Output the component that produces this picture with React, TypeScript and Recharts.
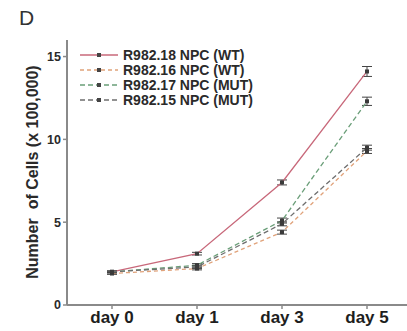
import { LineChart, Line, XAxis, YAxis, ErrorBar } from 'recharts'

const days = ['day 0', 'day 1', 'day 3', 'day 5']
const wt18 = [2.0, 3.1, 7.4, 14.1]
const wt18Err = [0.05, 0.08, 0.15, 0.3]
const wt16 = [1.9, 2.2, 4.4, 9.3]
const wt16Err = [0.05, 0.08, 0.12, 0.15]
const mut17 = [2.0, 2.4, 5.1, 12.3]
const mut17Err = [0.05, 0.1, 0.15, 0.25]
const mut15 = [2.0, 2.3, 4.9, 9.5]
const mut15Err = [0.05, 0.1, 0.12, 0.15]
const yTicks = [0, 5, 10, 15]

const data = days.map((d, i) => ({
  day: d,
  wt18: wt18[i], wt18Err: wt18Err[i],
  wt16: wt16[i], wt16Err: wt16Err[i],
  mut17: mut17[i], mut17Err: mut17Err[i],
  mut15: mut15[i], mut15Err: mut15Err[i],
}))

const SERIES = [
  { key: 'wt18', name: 'R982.18 NPC (WT)', color: '#c8687a', dash: undefined },
  { key: 'wt16', name: 'R982.16 NPC (WT)', color: '#e0a27a', dash: '4 3' },
  { key: 'mut17', name: 'R982.17 NPC (MUT)', color: '#6a9e78', dash: '5 3' },
  { key: 'mut15', name: 'R982.15 NPC (MUT)', color: '#6e6e6e', dash: '5 3' },
]

const FONT = '"Liberation Sans", Arial, sans-serif'

function SquareDot(props: any) {
  const { cx, cy } = props
  if (cx == null || cy == null) return null
  return <rect x={cx - 2} y={cy - 2} width={4} height={4} fill="#3a3a3a" />
}

function LegendBox() {
  return (
    <div style={{ position: 'absolute', left: 80, top: 47, fontFamily: FONT }}>
      {SERIES.map(s => (
        <div key={s.key} style={{ display: 'flex', alignItems: 'center', height: 15 }}>
          <svg width={40} height={8}>
            <line x1={0} y1={4} x2={38} y2={4} stroke={s.color} strokeWidth={1.3} strokeDasharray={s.dash} />
            <rect x={17} y={2} width={4} height={4} fill="#444" />
          </svg>
          <span style={{ fontSize: 14, fontWeight: 'bold', color: '#2a2a2a', marginLeft: 3, whiteSpace: 'nowrap' }}>{s.name}</span>
        </div>
      ))}
    </div>
  )
}

export default function App() {
  return (
    <div style={{ position: 'absolute', left: 0, top: 0, width: 407, height: 331, background: '#fff' }}>
      <LineChart width={407} height={331} data={data} margin={{ top: 40, right: 0, bottom: 0, left: 0 }}>
        <XAxis
          dataKey="day"
          height={26}
          padding={{ left: 45, right: 40 }}
          axisLine={{ stroke: '#8a8a8a', strokeWidth: 2 }}
          tickLine={{ stroke: '#8a8a8a', strokeWidth: 1.5 }}
          tickSize={4}
          tick={{ fill: '#1e1e1e', fontSize: 17, fontWeight: 'bold', fontFamily: FONT }}
          tickMargin={2}
          interval={0}
        />
        <YAxis
          width={67}
          domain={[0, 16]}
          ticks={yTicks}
          axisLine={{ stroke: '#8a8a8a', strokeWidth: 2 }}
          tickLine={{ stroke: '#8a8a8a', strokeWidth: 1.5 }}
          tickSize={4}
          tick={{ fill: '#2a2a2a', fontSize: 12.5, fontWeight: 'bold', fontFamily: FONT }}
        />
        {SERIES.map(s => (
          <Line
            key={s.key}
            dataKey={s.key}
            name={s.name}
            stroke={s.color}
            strokeWidth={1.3}
            strokeDasharray={s.dash}
            dot={<SquareDot />}
            activeDot={false}
            isAnimationActive={false}
          >
            <ErrorBar dataKey={s.key + 'Err'} width={5} stroke="#444" strokeWidth={1} direction="y" />
          </Line>
        ))}
      </LineChart>
      <div style={{ position: 'absolute', left: 19, top: 6, fontFamily: FONT, fontSize: 21, color: '#333' }}>D</div>
      <div
        style={{
          position: 'absolute', left: 33, top: 172, transform: 'translate(-50%, -50%) rotate(-90deg)',
          fontFamily: FONT, fontSize: 16, fontWeight: 'bold', color: '#2a2a2a', whiteSpace: 'pre',
        }}
      >
        {'Number  of Cells (x 100,000)'}
      </div>
      <LegendBox />
    </div>
  )
}
